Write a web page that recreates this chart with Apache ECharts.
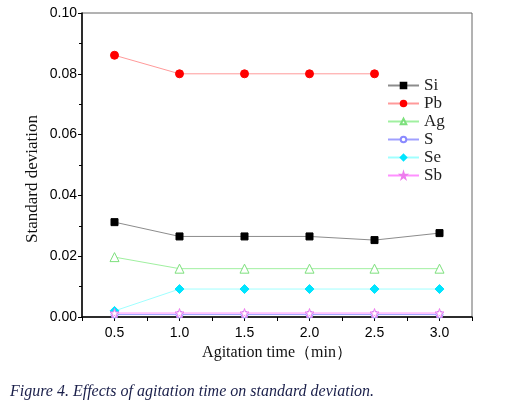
<!DOCTYPE html>
<html><head><meta charset="utf-8">
<script src="https://cdn.jsdelivr.net/npm/echarts@6/dist/echarts.min.js"></script>
<style>html,body{margin:0;padding:0;background:#fff}#c{width:509px;height:410px}</style>
</head><body><div id="c"></div>
<script>
const times = [0.5, 1.0, 1.5, 2.0, 2.5, 3.0];
const si = [0.0312, 0.0265, 0.0265, 0.0265, 0.0253, 0.0276];
const pb = [0.0861, 0.0800, 0.0800, 0.0800, 0.0800, null];
const ag = [0.0197, 0.0159, 0.0159, 0.0159, 0.0159, 0.0159];
const s  = [0.0008, 0.0008, 0.0008, 0.0008, 0.0008, 0.0008];
const se = [0.0020, 0.0092, 0.0092, 0.0092, 0.0092, 0.0092];
const sb = [0.0013, 0.0013, 0.0013, 0.0013, 0.0013, 0.0013];
const names = ['Si', 'Pb', 'Ag', 'S', 'Se', 'Sb'];
const xLabels = ['0.5', '1.0', '1.5', '2.0', '2.5', '3.0'];
const yLabels = ['0.00', '0.02', '0.04', '0.06', '0.08', '0.10'];

const star = 'path://M50,0 L61,35 L98,35 L68,57 L79,91 L50,70 L21,91 L32,57 L2,35 L39,35 Z';
function pts(arr){ return times.map((t,i)=>[t, arr[i]]); }
function mk(name, arr, lineColor, sym, size, fill, border){
  return {
    name, type:'line', data: pts(arr), symbol: sym, symbolSize: size,
    showAllSymbol:true, connectNulls:false,
    lineStyle:{color: lineColor, width:1},
    itemStyle:{color: fill, borderColor: border, borderWidth: 1},
    emphasis:{disabled:true}, animation:false
  };
}
const chart = echarts.init(document.getElementById('c'), null, {renderer:'canvas'});
chart.setOption({
  animation:false,
  backgroundColor:'#fff',
  grid:{left:82, top:13, right:37, bottom:93, show:true, borderColor:'#666', borderWidth:1},
  legend:{
    orient:'vertical', left:382, top:72, itemWidth:31, itemHeight:7, itemGap:1,
    data:names,
    textStyle:{fontFamily:'Liberation Serif', fontSize:17, lineHeight:17, color:'#222'}
  },
  xAxis:{
    type:'value', min:0.25, max:3.25, interval:0.25,
    name:'Agitation time（min）', nameLocation:'middle', nameGap:28,
    nameTextStyle:{fontFamily:'Liberation Serif', fontSize:16, color:'#111'},
    axisLine:{onZero:false, lineStyle:{color:'#000', width:1.5}},
    axisTick:{show:true, inside:false, length:4, lineStyle:{color:'#000'}},
    splitLine:{show:false},
    axisLabel:{margin:9, fontFamily:'Liberation Sans', fontSize:14, color:'#000',
      formatter:function(v){ const i = xLabels.indexOf(v.toFixed(1)); return (Math.abs(v*2-Math.round(v*2))<1e-6 && i>=0) ? xLabels[i] : ''; }}
  },
  yAxis:{
    type:'value', min:0, max:0.1, interval:0.02,
    axisLine:{show:true, onZero:false, lineStyle:{color:'#000', width:1.5}},
    axisTick:{show:true, inside:false, length:4, lineStyle:{color:'#000'}},
    minorTick:{show:true, splitNumber:2, length:3, lineStyle:{color:'#000'}},
    splitLine:{show:false},
    axisLabel:{margin:5, fontFamily:'Liberation Sans', fontSize:14, color:'#000',
      formatter:function(v){ return yLabels[Math.round(v/0.02)]; }}
  },
  series:[
    mk('Si', si, '#8c8c8c', 'rect', 7, '#000', '#000'),
    mk('Pb', pb, '#ff9a9a', 'circle', 8, '#ff0000', '#ff0000'),
    mk('Ag', ag, '#a0f0a0', 'triangle', 9, '#fff', '#7de07d'),
    mk('S',  s,  '#a0a0ff', 'circle', 7, '#fff', '#8a8aff'),
    mk('Se', se, '#a0ffff', 'diamond', 9, '#00e5ff', '#00e5ff'),
    mk('Sb', sb, '#ff90ff', star, 9, '#fff', '#ee7cee')
  ],
  graphic:[{
    type:'text', x:33, y:179, rotation:Math.PI/2,
    style:{text:'Standard deviation', font:'17px "Liberation Serif"', fill:'#111',
      align:'center', verticalAlign:'middle'}
  },{
    type:'text', left:10, top:384,
    style:{text:'Figure 4. Effects of agitation time on standard deviation.',
      font:'italic 16px "Liberation Serif"', fill:'#1a1f4a'}
  }]
});
</script></body></html>
